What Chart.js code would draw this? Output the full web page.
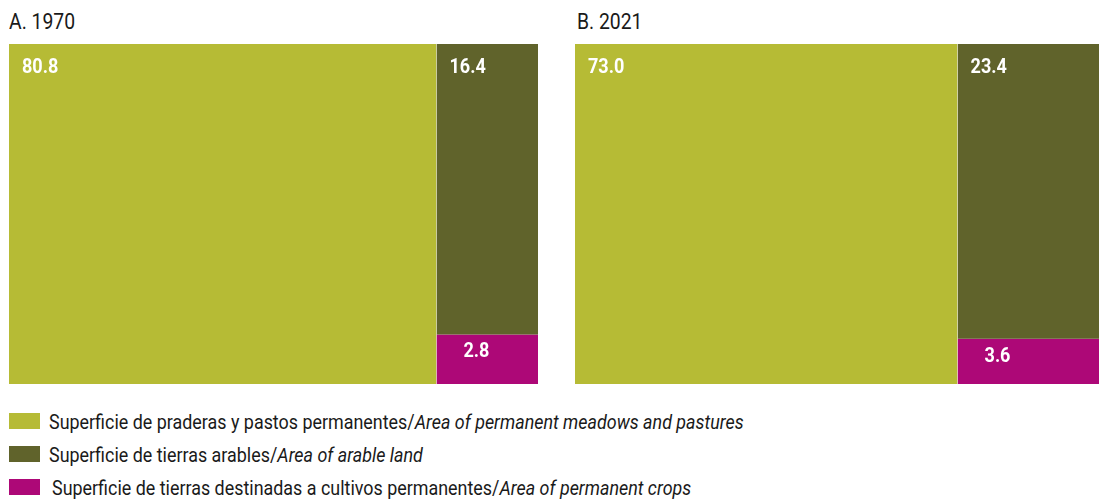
<!DOCTYPE html>
<html><head><meta charset="utf-8">
<script src="https://cdn.jsdelivr.net/npm/chart.js@4"></script>
<style>
body{margin:0;width:1099px;height:501px;background:#fff;font-family:Roboto,sans-serif;overflow:hidden;position:relative}
.title{position:absolute;top:11px;font-size:22px;line-height:22px;color:#1a1a1a;transform:scaleX(0.88);transform-origin:left;white-space:nowrap}
.panel{position:absolute;top:44px}
.leg{position:absolute;left:9px;height:16px;width:31px}
.legt{position:absolute;font-size:20px;line-height:20px;color:#1a1a1a;white-space:nowrap;transform:scaleX(0.895);transform-origin:left}
</style></head>
<body>
<div class="title" style="left:9px">A. 1970</div>
<div class="title" style="left:577px">B. 2021</div>
<canvas id="cA" class="panel" width="529" height="340" style="left:9px"></canvas>
<canvas id="cB" class="panel" width="524" height="340" style="left:575px"></canvas>
<div id="legend"></div>
<script>
const panelIds = ['cA', 'cB'];
const years = ['1970', '2021'];
const meadows = [80.8, 73.0];
const arable = [16.4, 23.4];
const crops = [2.8, 3.6];
const seriesEs = ['Superficie de praderas y pastos permanentes/', 'Superficie de tierras arables/', 'Superficie de tierras destinadas a cultivos permanentes/'];
const seriesEn = ['Area of permanent meadows and pastures', 'Area of arable land', 'Area of permanent crops'];
const colors = ['#b6bb35', '#60632b', '#ad0877'];

function condensedText(ctx, text, x, y, sx) {
  ctx.save();
  ctx.translate(x, y);
  ctx.scale(sx, 1);
  ctx.fillText(text, 0, 0);
  ctx.restore();
}

panelIds.forEach((id, i) => {
  const split = crops[i] / (arable[i] + crops[i]) * 100;
  const labelPlugin = {
    id: 'valueLabels',
    afterDatasetsDraw(chart) {
      const { ctx, scales: { x, y } } = chart;
      ctx.save();
      ctx.fillStyle = '#ffffff';
      ctx.font = 'bold 21px Roboto';
      ctx.textBaseline = 'alphabetic';
      condensedText(ctx, meadows[i].toFixed(1), x.getPixelForValue(0) + 13, y.getPixelForValue(100) + 29, 0.86);
      condensedText(ctx, arable[i].toFixed(1), x.getPixelForValue(meadows[i]) + 13, y.getPixelForValue(100) + 29, 0.86);
      condensedText(ctx, crops[i].toFixed(1), x.getPixelForValue(meadows[i]) + 27, y.getPixelForValue(split) + 23, 0.86);
      ctx.restore();
    }
  };
  new Chart(document.getElementById(id), {
    type: 'line',
    data: {
      datasets: [
        { label: seriesEn[0], data: [{ x: 0, y: 100 }, { x: meadows[i], y: 100 }], fill: 'origin', backgroundColor: colors[0] },
        { label: seriesEn[1], data: [{ x: meadows[i], y: 100 }, { x: 100, y: 100 }], fill: { value: split }, backgroundColor: colors[1] },
        { label: seriesEn[2], data: [{ x: meadows[i], y: split }, { x: 100, y: split }], fill: 'origin', backgroundColor: colors[2] }
      ]
    },
    options: {
      responsive: false,
      animation: false,
      layout: { padding: 0 },
      elements: { line: { borderWidth: 0, borderColor: 'rgba(0,0,0,0)', tension: 0 }, point: { radius: 0, hoverRadius: 0 } },
      scales: {
        x: { type: 'linear', min: 0, max: 100, display: false },
        y: { type: 'linear', min: 0, max: 100, display: false }
      },
      plugins: { legend: { display: false }, tooltip: { enabled: false } }
    },
    plugins: [labelPlugin]
  });
});

const legend = document.getElementById('legend');
const rowTops = [413, 446, 479];
const textLefts = [49, 49, 52];
seriesEs.forEach((es, k) => {
  const box = document.createElement('div');
  box.className = 'leg';
  box.style.top = rowTops[k] + 'px';
  box.style.background = colors[k];
  legend.appendChild(box);
  const t = document.createElement('div');
  t.className = 'legt';
  t.style.top = (rowTops[k] - 1) + 'px';
  t.style.left = textLefts[k] + 'px';
  t.innerHTML = es + '<i>' + seriesEn[k] + '</i>';
  legend.appendChild(t);
});
</script>
</body></html>
